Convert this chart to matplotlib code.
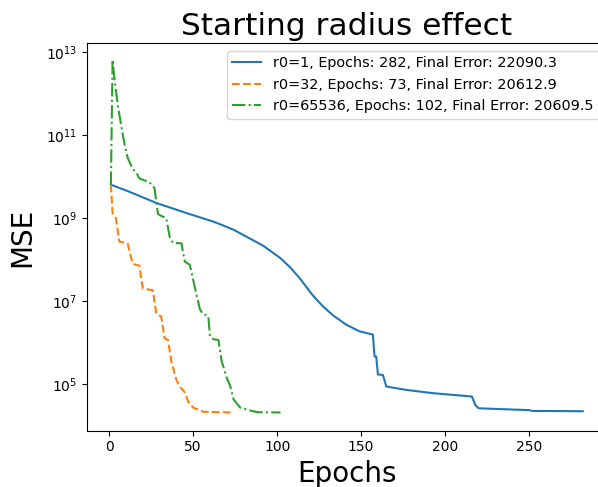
import matplotlib
matplotlib.use("Agg")
import matplotlib.pyplot as plt
from matplotlib.ticker import NullLocator

# (epoch, MSE) at the curve vertices
blue_epochs = [1, 10, 28, 45, 63, 74, 85, 92, 102, 108, 114, 121, 127, 133,
               141, 149, 157, 158, 159, 160, 163, 165, 177, 193, 216, 218, 220,
               250, 252, 282]
blue_mse = [6.3e9, 4.6e9, 2.3e9, 1.35e9, 7.9e8, 5.2e8, 3.0e8, 2.1e8, 1.07e8,
            6.3e7, 3.3e7, 1.4e7, 7.6e6, 4.6e6, 2.7e6, 1.86e6, 1.55e6, 4.6e5,
            4.6e5, 1.7e5, 1.65e5, 8.7e4, 7.2e4, 6.0e4, 5.0e4, 3.1e4, 2.6e4,
            2.35e4, 2.25e4, 22090.3]

orange_epochs = [1, 2, 4, 6, 11, 14, 18, 20, 26, 28, 31, 33, 35, 37, 40, 42,
                 45, 47, 50, 56, 73]
orange_mse = [6.3e9, 1.3e9, 9.8e8, 2.7e8, 2.4e8, 7.8e7, 7.1e7, 2.0e7, 1.8e7,
              5.0e6, 4.2e6, 1.26e6, 1.15e6, 3.5e5, 1.26e5, 8.7e4, 6.3e4,
              3.8e4, 2.7e4, 2.14e4, 20612.9]

green_epochs = [1, 2, 3, 5, 7, 9, 11, 14, 16, 18, 20, 24, 27, 28, 29, 30, 34,
                36, 38, 43, 45, 48, 50, 54, 56, 59, 60, 62, 65, 67, 70, 72, 74,
                78, 84, 88, 102]
green_mse = [6.3e9, 6.5e12, 2.5e12, 5.6e11, 1.8e11, 6.3e10, 2.8e10, 1.5e10,
             1.26e10, 8.9e9, 8.3e9, 7.2e9, 5.2e9, 2.5e9, 1.26e9, 1.17e9,
             9.8e8, 3.5e8, 2.5e8, 2.45e8, 8.9e7, 7.4e7, 3.2e7, 6.3e6, 4.8e6,
             4.4e6, 1.4e6, 1.2e6, 1.15e6, 3.5e5, 1.4e5, 9.1e4, 4.3e4, 2.7e4,
             2.3e4, 2.1e4, 20609.5]

labels = [
    "r0=1, Epochs: 282, Final Error: 22090.3",
    "r0=32, Epochs: 73, Final Error: 20612.9",
    "r0=65536, Epochs: 102, Final Error: 20609.5",
]

fig = plt.figure(figsize=(5.98, 4.87), dpi=100)
ax = fig.add_axes([0.146, 0.116, 0.868, 0.795])

ax.plot(blue_epochs, blue_mse, color="tab:blue", ls="-", lw=1.5, label=labels[0])
ax.plot(orange_epochs, orange_mse, color="tab:orange", ls="--", lw=1.5, label=labels[1])
ax.plot(green_epochs, green_mse, color="tab:green", ls="-.", lw=1.5, label=labels[2])

ax.set_yscale("log")
ax.set_ylim(10 ** 3.88, 10 ** 13.205)
ax.set_yticks([1e5, 1e7, 1e9, 1e11, 1e13])
ax.yaxis.set_minor_locator(NullLocator())
ax.set_xticks([0, 50, 100, 150, 200, 250])
ax.set_xlim(-13.05, 296.05)

ax.set_title("Starting radius effect", fontsize=22.5)
ax.set_xlabel("Epochs", fontsize=20)
ax.set_ylabel("MSE", fontsize=20, labelpad=7)
ax.legend(loc="upper right", fontsize=10.4)

fig.savefig("out.png", dpi=100)
